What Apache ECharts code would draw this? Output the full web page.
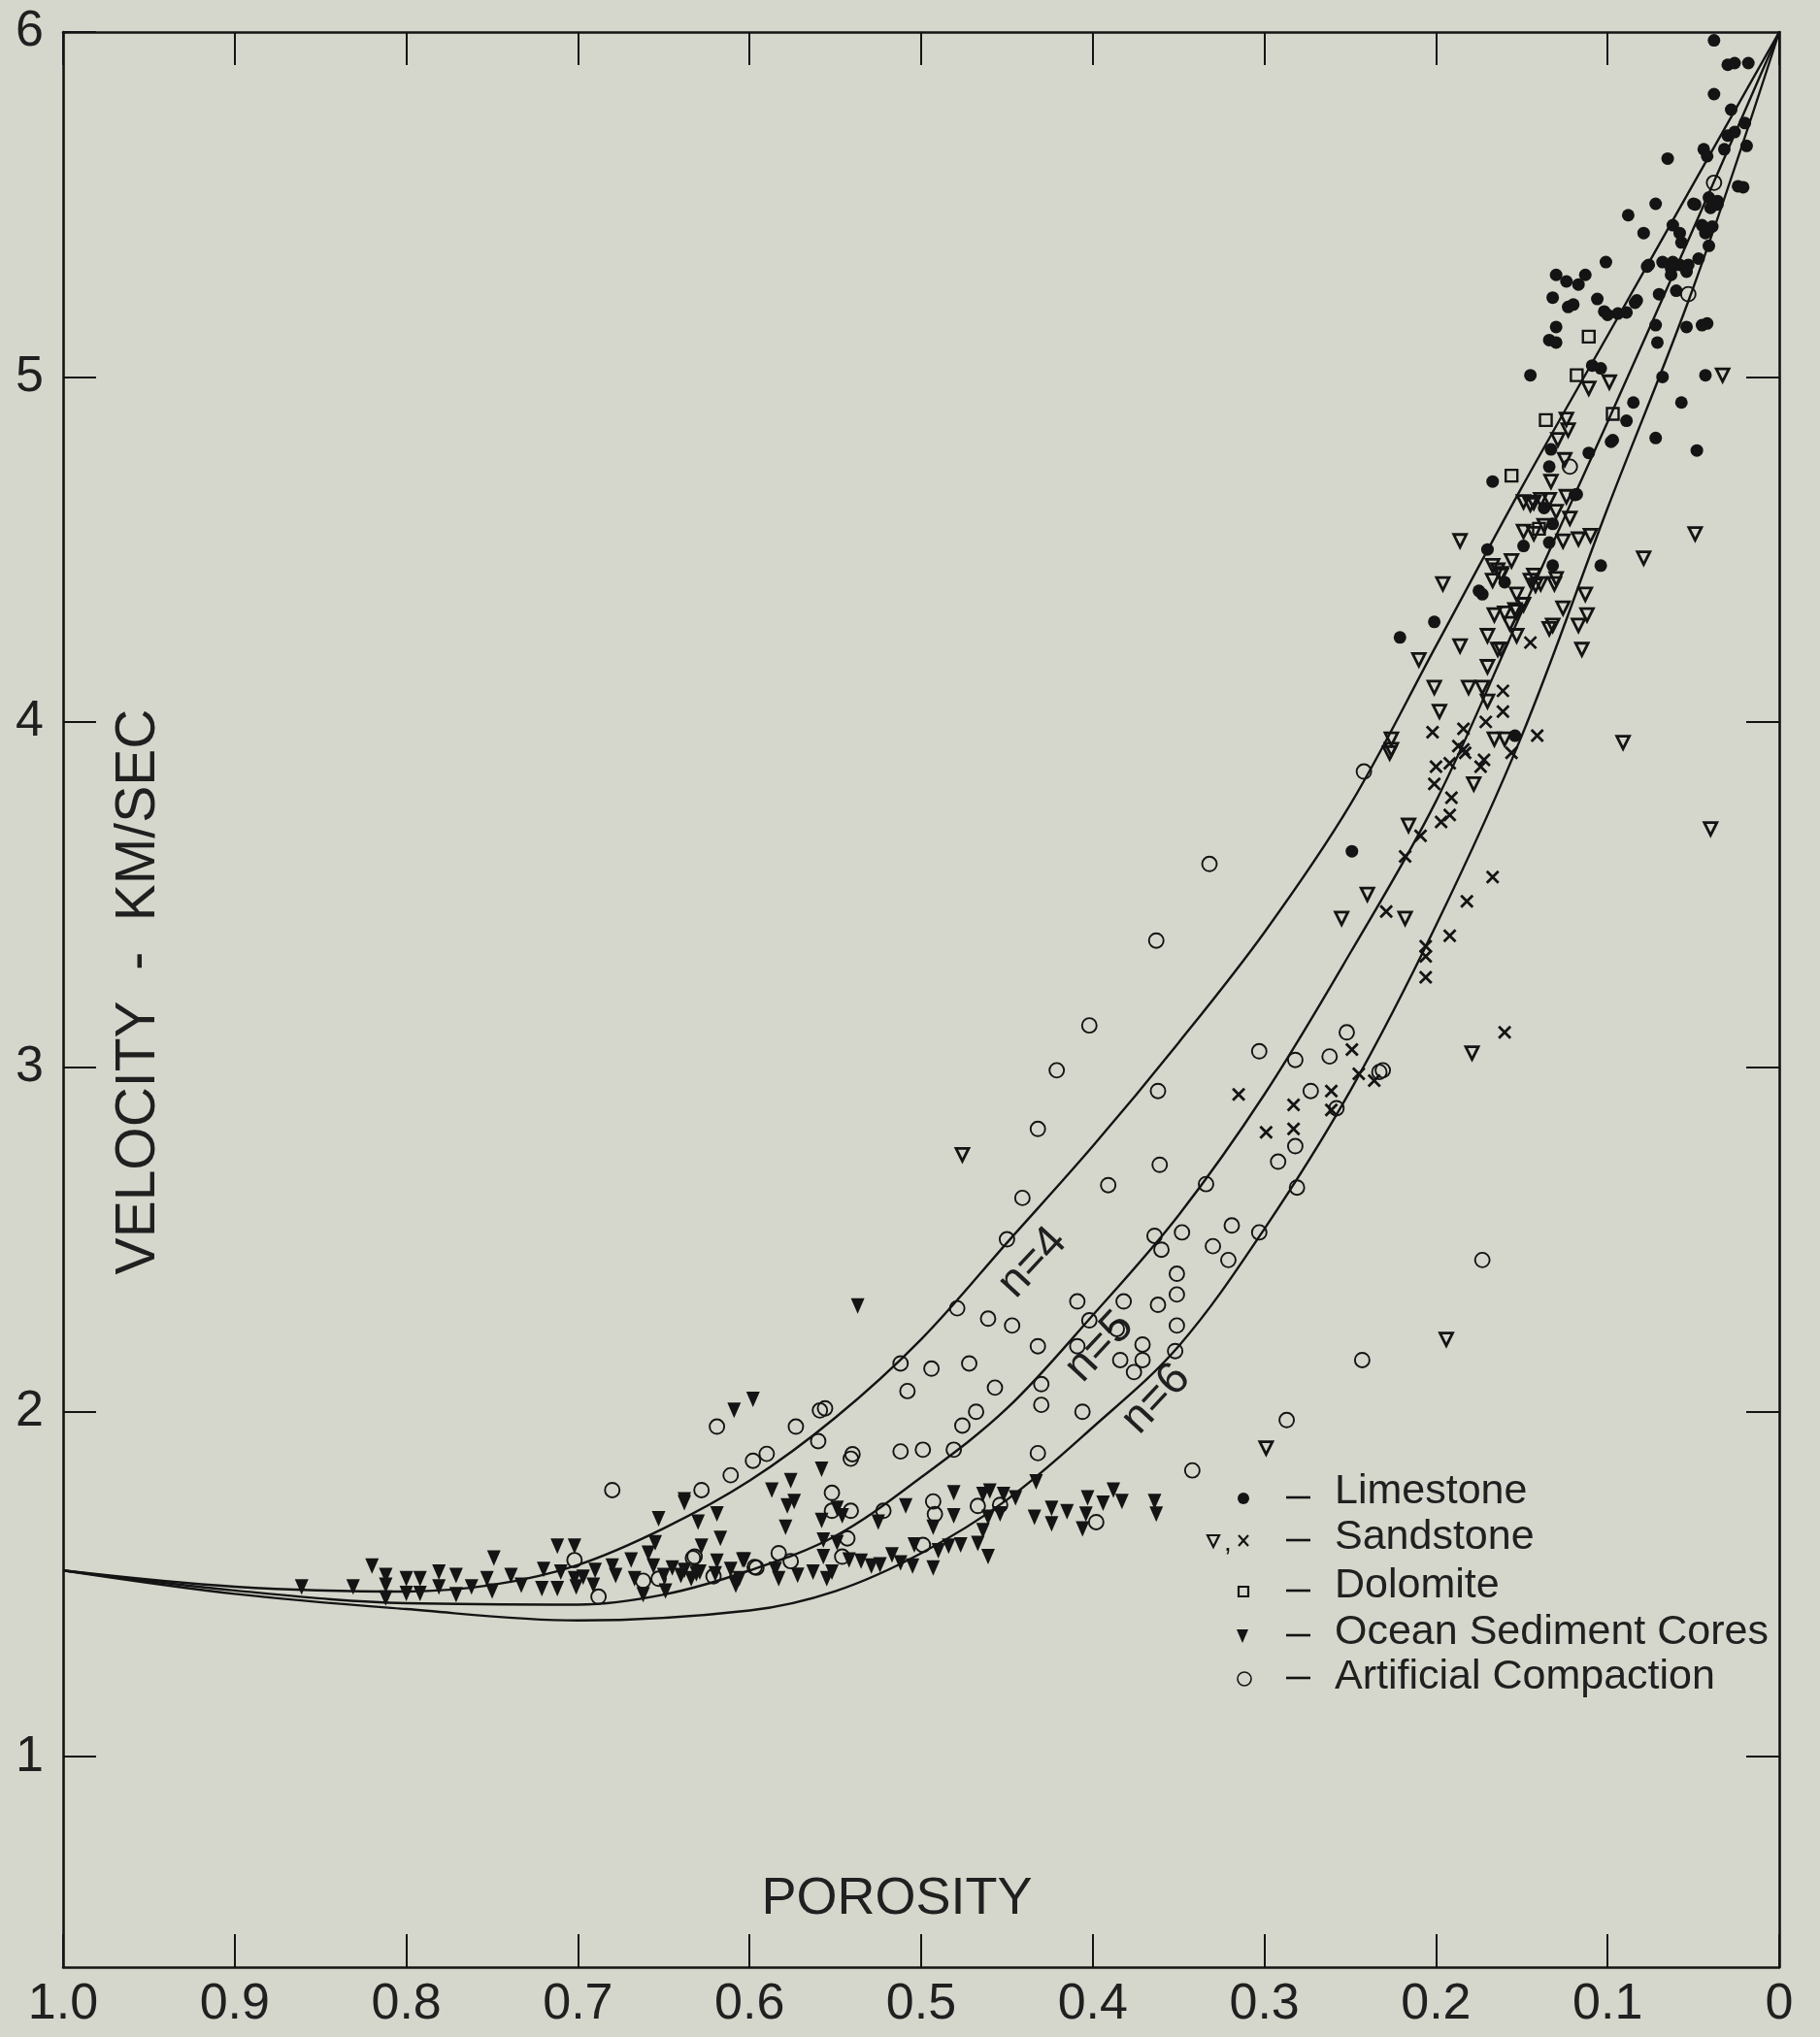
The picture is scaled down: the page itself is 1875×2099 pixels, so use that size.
<!DOCTYPE html>
<html><head><meta charset="utf-8">
<script src="https://cdn.jsdelivr.net/npm/echarts@6/dist/echarts.min.js"></script>
<style>html,body{margin:0;padding:0;background:#d5d7cc}#c{width:1875px;height:2099px}</style>
</head><body><div id="c"></div>
<script>
// ---------- tick labels ----------
const porosityTickValues = [0,0.1,0.2,0.3,0.4,0.5,0.6,0.7,0.8,0.9,1.0];
const porosityTickLabels = ['0','0.1','0.2','0.3','0.4','0.5','0.6','0.7','0.8','0.9','1.0'];
const velocityTickValues = [1,2,3,4,5,6];
const velocityTickLabels = ['1','2','3','4','5','6'];

// ---------- model curves [porosity, velocity] ----------
const curveN4 = [[1.0,1.54],[0.9,1.493],[0.8,1.479],[0.75,1.498],[0.7,1.556],[0.65,1.662],[0.6,1.80],[0.55,1.983],[0.5,2.21],[0.45,2.49],[0.4,2.77],[0.35,3.07],[0.3,3.39],[0.25,3.76],[0.2,4.22],[0.15,4.68],[0.1,5.12],[0.05,5.56],[0,6.0]];
const curveN5 = [[1.0,1.54],[0.9,1.482],[0.8,1.445],[0.7,1.441],[0.65,1.47],[0.6,1.54],[0.55,1.64],[0.5,1.81],[0.45,2.01],[0.4,2.28],[0.35,2.57],[0.3,2.92],[0.25,3.33],[0.2,3.77],[0.15,4.32],[0.1,4.87],[0.05,5.43],[0,6.0]];
const curveN6 = [[1.0,1.54],[0.9,1.472],[0.8,1.428],[0.7,1.395],[0.6,1.424],[0.55,1.48],[0.5,1.59],[0.45,1.745],[0.4,1.955],[0.35,2.19],[0.3,2.53],[0.25,2.93],[0.2,3.41],[0.15,3.96],[0.1,4.62],[0.05,5.26],[0,6.0]];
const curveNames = ['n=4','n=5','n=6'];
const curveLabelAt = [[0.435,2.432],[0.396,2.188],[0.363,2.037]];

// ---------- measured samples [porosity, velocity] ----------
const limestone = [[.038,5.976],[.030,5.905],[.026,5.91],[.018,5.91],[.038,5.82],[.028,5.775],[.065,5.633],[.044,5.66],[.042,5.64],[.030,5.70],[.026,5.71],[.020,5.736],[.019,5.67],[.024,5.553],[.021,5.55],[.072,5.502],[.088,5.469],[.079,5.417],[.050,5.502],[.041,5.52],[.040,5.49],[.036,5.51],[.062,5.44],[.058,5.417],[.057,5.39],[.045,5.44],[.043,5.417],[.039,5.436],[.041,5.38],[.101,5.333],[.076,5.325],[.068,5.333],[.063,5.314],[.058,5.325],[.053,5.325],[.047,5.343],[.130,5.296],[.124,5.277],[.117,5.268],[.113,5.296],[.132,5.23],[.123,5.203],[.120,5.21],[.106,5.226],[.102,5.19],[.100,5.18],[.094,5.184],[.089,5.187],[.083,5.222],[.060,5.25],[.070,5.24],[.063,5.296],[.130,5.145],[.134,5.107],[.130,5.10],[.072,5.15],[.071,5.10],[.054,5.145],[.045,5.15],[.042,5.155],[.145,5.005],[.109,5.033],[.104,5.025],[.068,5.0],[.043,5.005],[.085,4.926],[.089,4.873],[.097,4.817],[.057,4.926],[.072,4.823],[.048,4.787],[.111,4.78],[.167,4.697],[.133,4.79],[.134,4.74],[.098,4.812],[.119,4.658],[.137,4.62],[.132,4.574],[.149,4.51],[.134,4.52],[.170,4.50],[.132,4.453],[.104,4.453],[.175,4.38],[.160,4.405],[.154,3.96],[.077,5.32],[.084,5.215],[.173,4.37],[.201,4.29],[.221,4.245],[.249,3.625],[.118,4.66],[.049,5.50],[.054,5.305],[.062,5.333],[.032,5.66],[.036,5.50]];
const sandstoneTri = [[.111,4.967],[.099,4.985],[.033,5.005],[.124,4.877],[.123,4.846],[.129,4.818],[.125,4.76],[.133,4.697],[.049,4.545],[.079,4.475],[.186,4.525],[.149,4.638],[.143,4.636],[.139,4.644],[.134,4.644],[.124,4.653],[.149,4.552],[.143,4.546],[.137,4.569],[.126,4.524],[.122,4.59],[.117,4.53],[.110,4.54],[.167,4.453],[.156,4.467],[.162,4.425],[.143,4.425],[.130,4.415],[.145,4.63],[.130,4.61],[.164,4.44],[.167,4.41],[.153,4.37],[.139,4.40],[.131,4.40],[.142,4.396],[.186,4.22],[.113,4.37],[.166,4.31],[.160,4.315],[.153,4.32],[.157,4.285],[.149,4.34],[.126,4.33],[.132,4.28],[.112,4.31],[.117,4.28],[.170,4.25],[.164,4.21],[.153,4.25],[.115,4.21],[.170,4.16],[.181,4.10],[.173,4.10],[.170,4.06],[.166,3.95],[.160,3.95],[.091,3.94],[.178,3.82],[.040,3.69],[.196,4.40],[.210,4.18],[.201,4.10],[.198,4.03],[.226,3.95],[.226,3.92],[.216,3.70],[.240,3.50],[.255,3.43],[.218,3.43],[.227,3.91],[.162,4.43],[.145,4.41],[.154,4.325],[.134,4.27],[.162,4.21],[.179,3.04],[.194,2.21],[.299,1.895],[.476,2.745]];
const sandstoneX = [[.145,4.23],[.161,4.09],[.161,4.03],[.171,4.0],[.184,3.98],[.184,3.92],[.141,3.96],[.174,3.87],[.172,3.89],[.156,3.91],[.167,3.55],[.182,3.48],[.202,3.97],[.187,3.93],[.183,3.91],[.200,3.87],[.192,3.88],[.201,3.82],[.191,3.78],[.197,3.71],[.192,3.73],[.209,3.67],[.218,3.61],[.192,3.38],[.206,3.35],[.206,3.32],[.229,3.45],[.206,3.26],[.160,3.10],[.249,3.05],[.245,2.98],[.236,2.96],[.261,2.93],[.283,2.89],[.283,2.82],[.299,2.81],[.315,2.92],[.261,2.875]];
const dolomite = [[.111,5.117],[.118,5.005],[.097,4.893],[.136,4.875],[.156,4.714],[.140,4.56]];
const oceanCores = [[.537,2.307],[.609,2.004],[.598,2.036],[.558,1.833],[.587,1.773],[.576,1.80],[.578,1.727],[.574,1.74],[.579,1.665],[.619,1.704],[.630,1.68],[.638,1.736],[.617,1.633],[.628,1.61],[.619,1.567],[.603,1.57],[.638,1.54],[.631,1.53],[.620,1.53],[.611,1.543],[.608,1.497],[.585,1.543],[.583,1.516],[.572,1.526],[.563,1.535],[.555,1.516],[.552,1.535],[.558,1.685],[.557,1.628],[.557,1.58],[.549,1.72],[.546,1.698],[.549,1.62],[.542,1.57],[.535,1.567],[.529,1.553],[.524,1.556],[.517,1.585],[.512,1.562],[.505,1.553],[.493,1.547],[.504,1.614],[.493,1.665],[.490,1.597],[.484,1.61],[.477,1.614],[.525,1.68],[.509,1.727],[.481,1.765],[.481,1.698],[.464,1.76],[.460,1.77],[.452,1.76],[.445,1.75],[.467,1.618],[.461,1.58],[.464,1.655],[.461,1.694],[.454,1.704],[.433,1.797],[.434,1.694],[.424,1.72],[.424,1.675],[.415,1.71],[.403,1.75],[.404,1.703],[.406,1.66],[.394,1.735],[.388,1.773],[.383,1.74],[.364,1.74],[.363,1.703],[.861,1.492],[.831,1.492],[.820,1.553],[.812,1.525],[.812,1.497],[.812,1.46],[.800,1.516],[.800,1.473],[.792,1.516],[.792,1.473],[.781,1.535],[.781,1.492],[.771,1.525],[.771,1.47],[.762,1.492],[.749,1.576],[.753,1.516],[.750,1.48],[.739,1.525],[.733,1.497],[.720,1.543],[.721,1.487],[.712,1.487],[.712,1.61],[.702,1.61],[.710,1.535],[.702,1.516],[.697,1.52],[.690,1.54],[.701,1.492],[.691,1.497],[.680,1.553],[.678,1.525],[.669,1.57],[.667,1.516],[.659,1.59],[.656,1.553],[.655,1.62],[.653,1.69],[.650,1.525],[.645,1.547],[.638,1.745],[.604,1.57],[.608,1.505],[.640,1.525],[.634,1.516],[.629,1.535],[.662,1.47],[.649,1.48],[.606,1.516]];
const artificial = [[.038,5.563],[.053,5.24],[.122,4.74],[.242,3.856],[.332,3.588],[.363,3.366],[.402,3.12],[.421,2.99],[.432,2.82],[.391,2.657],[.441,2.62],[.450,2.50],[.362,2.93],[.303,3.045],[.282,3.02],[.252,3.10],[.231,2.99],[.273,2.93],[.282,2.77],[.292,2.725],[.258,2.88],[.361,2.716],[.334,2.66],[.281,2.65],[.364,2.51],[.348,2.52],[.360,2.47],[.319,2.54],[.330,2.48],[.321,2.44],[.303,2.52],[.351,2.40],[.351,2.34],[.362,2.31],[.382,2.32],[.351,2.25],[.371,2.195],[.384,2.15],[.371,2.15],[.376,2.115],[.352,2.176],[.173,2.44],[.243,2.15],[.386,2.24],[.479,2.30],[.461,2.27],[.447,2.25],[.512,2.14],[.494,2.125],[.472,2.14],[.508,2.06],[.457,2.07],[.556,2.01],[.468,2.00],[.476,1.96],[.432,2.19],[.430,2.08],[.430,2.02],[.409,2.32],[.402,2.265],[.406,2.0],[.409,2.19],[.432,1.88],[.499,1.89],[.512,1.885],[.540,1.877],[.481,1.89],[.619,1.957],[.559,2.004],[.573,1.957],[.590,1.878],[.598,1.858],[.611,1.816],[.628,1.773],[.560,1.915],[.541,1.864],[.552,1.765],[.541,1.713],[.552,1.713],[.522,1.713],[.493,1.74],[.492,1.703],[.467,1.727],[.398,1.68],[.583,1.59],[.576,1.567],[.596,1.548],[.543,1.633],[.546,1.58],[.632,1.58],[.621,1.523],[.499,1.614],[.454,1.73],[.680,1.773],[.702,1.57],[.688,1.464],[.662,1.51],[.653,1.516],[.633,1.576],[.597,1.55],[.287,1.976],[.342,1.83],[.262,3.03],[.233,2.985]];

const legendNames = ['Limestone','Sandstone','Dolomite','Ocean Sediment Cores','Artificial Compaction'];
const axisTitleX = 'POROSITY';
const axisTitleY = 'VELOCITY  -  KM/SEC';

// ---------- styling ----------
const INK = '#141414';
const FONT = "'Liberation Sans', Arial, sans-serif";
const chart = echarts.init(document.getElementById('c'), null, {renderer:'canvas'});

const axisLineStyle = {show:true, onZero:false, lineStyle:{color:INK, width:2.6}};
const tickStyle = {show:true, inside:true, length:34, lineStyle:{color:INK, width:2}};

function lineSeries(name, data){
  return {name, type:'line', data, smooth:0.35, showSymbol:false, symbol:'none',
          lineStyle:{color:INK, width:2.4}, silent:true, z:2};
}
function scatter(name, data, symbol, size, rotate, filled, bw){
  return {name, type:'scatter', data, symbol, symbolSize:size, symbolRotate:rotate, clip:false,
          itemStyle: filled ? {color:INK, opacity:1} : {color:'rgba(0,0,0,0)', borderColor:INK, borderWidth:bw, opacity:1},
          z:3, silent:true};
}

chart.setOption({
  backgroundColor:'#d5d7cc',
  animation:false,
  grid:{left:65, right:42, top:33, bottom:72, containLabel:false},
  xAxis:[
    {type:'value', min:0, max:1, interval:0.1, inverse:true, position:'bottom',
     axisLine:axisLineStyle, axisTick:tickStyle, splitLine:{show:false},
     axisLabel:{margin:13, fontSize:52, color:'#202020', fontFamily:FONT,
       formatter:v => { const i = porosityTickValues.findIndex(t => Math.abs(t - v) < 1e-6); return i >= 0 ? porosityTickLabels[i] : ''; }}},
    {type:'value', min:0, max:1, interval:0.1, inverse:true, position:'top',
     axisLine:axisLineStyle, axisTick:tickStyle, splitLine:{show:false}, axisLabel:{show:false}}
  ],
  yAxis:[
    {type:'value', min:0.39, max:6, position:'left',
     axisLine:axisLineStyle, axisTick:Object.assign({}, tickStyle, {customValues:velocityTickValues}),
     splitLine:{show:false},
     axisLabel:{customValues:velocityTickValues, margin:20, fontSize:52, color:'#202020', fontFamily:FONT,
       formatter:v => { const i = velocityTickValues.indexOf(Math.round(v)); return i >= 0 ? velocityTickLabels[i] : ''; }}},
    {type:'value', min:0.39, max:6, position:'right',
     axisLine:axisLineStyle, axisTick:Object.assign({}, tickStyle, {customValues:velocityTickValues.slice(0,5)}),
     splitLine:{show:false}, axisLabel:{show:false}}
  ],
  series:[
    lineSeries(curveNames[0], curveN4),
    lineSeries(curveNames[1], curveN5),
    lineSeries(curveNames[2], curveN6),
    scatter(legendNames[4], artificial, 'circle', 15, 0, false, 1.9),
    scatter(legendNames[3], oceanCores, 'triangle', [14,16], 180, true, 0),
    scatter(legendNames[2], dolomite, 'rect', 12, 0, false, 2.4),
    scatter(legendNames[1], sandstoneTri, 'triangle', [13,13], 180, false, 2.8),
    scatter(legendNames[1] + ' x', sandstoneX, 'path://M0,0L10,10M10,0L0,10', 12, 0, false, 2.8),
    scatter(legendNames[0], limestone, 'circle', 13, 0, true, 0)
  ]
});

// ---------- overlay text: titles, curve labels, legend ----------
const g = [];
g.push({type:'text', x:924, y:1957, style:{text:axisTitleX, fontSize:54, fontFamily:FONT, fill:'#202020', align:'center', verticalAlign:'middle'}});
g.push({type:'text', x:143, y:1022, rotation:Math.PI/2, style:{text:axisTitleY, fontSize:57, fontFamily:FONT, fill:'#202020', align:'center', verticalAlign:'middle'}});
curveNames.forEach((t,i) => {
  const pt = chart.convertToPixel({xAxisIndex:0, yAxisIndex:0}, curveLabelAt[i]);
  g.push({type:'text', x:pt[0], y:pt[1], rotation:47*Math.PI/180,
          style:{text:t, fontSize:47, fontFamily:FONT, fill:'#202020', align:'center', verticalAlign:'middle'}});
});
// legend
const rowY = [1537,1584,1634,1682,1728];
const symY = [1544,1588,1640,1686,1730];
legendNames.forEach((t,i) => {
  g.push({type:'line', shape:{x1:1325, y1:symY[i]-1, x2:1350, y2:symY[i]-1}, style:{stroke:INK, lineWidth:2.6}});
  g.push({type:'text', x:1375, y:rowY[i], style:{text:t, fontSize:43, fontFamily:FONT, fill:'#202020', align:'left', verticalAlign:'middle'}});
});
g.push({type:'circle', shape:{cx:1281, cy:symY[0], r:6}, style:{fill:INK}});
g.push({type:'polygon', shape:{points:[[1244,symY[1]-6],[1256,symY[1]-6],[1250,symY[1]+6]]}, style:{fill:'none', stroke:INK, lineWidth:2.2}});
g.push({type:'text', x:1265, y:symY[1]+2, style:{text:',', fontSize:28, fontFamily:FONT, fill:INK, align:'center', verticalAlign:'middle'}});
g.push({type:'line', shape:{x1:1276, y1:symY[1]-6, x2:1286, y2:symY[1]+5}, style:{stroke:INK, lineWidth:2.2}});
g.push({type:'line', shape:{x1:1286, y1:symY[1]-6, x2:1276, y2:symY[1]+5}, style:{stroke:INK, lineWidth:2.2}});
g.push({type:'rect', shape:{x:1276, y:symY[2]-5, width:10, height:10}, style:{fill:'none', stroke:INK, lineWidth:2.2}});
g.push({type:'polygon', shape:{points:[[1274,symY[3]-7],[1286,symY[3]-7],[1280,symY[3]+7]]}, style:{fill:INK}});
g.push({type:'circle', shape:{cx:1282, cy:symY[4], r:7}, style:{fill:'none', stroke:INK, lineWidth:1.6}});
chart.setOption({graphic:g});
</script>
</body></html>
